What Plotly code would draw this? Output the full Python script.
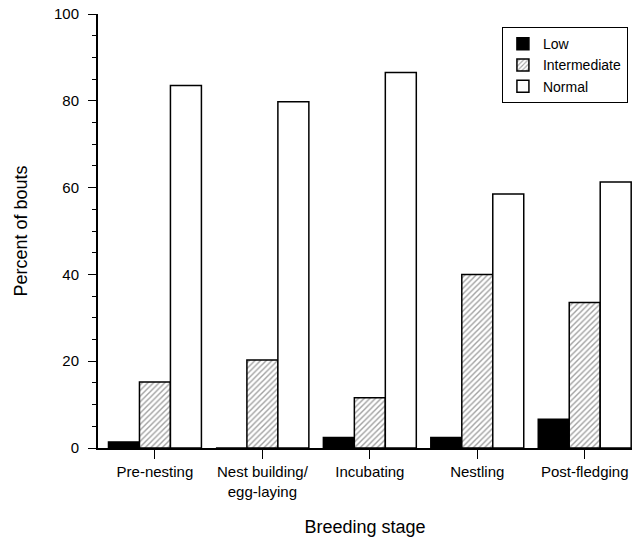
import plotly.graph_objects as go

stages = ["Pre-nesting", "Nest building/<br>egg-laying", "Incubating", "Nestling", "Post-fledging"]
low = [1.4, 0.0, 2.4, 2.4, 6.6]
intermediate = [15.2, 20.3, 11.6, 40.0, 33.5]
normal = [83.5, 79.8, 86.5, 58.5, 61.3]

font = "Liberation Sans, Arial, sans-serif"
line = dict(color="black", width=1.5)

fig = go.Figure()
fig.add_bar(x=stages, y=low, name="Low", marker=dict(color="black", line=line))
fig.add_bar(x=stages, y=intermediate, name="Intermediate",
            marker=dict(color="white", line=line,
                        pattern=dict(shape="/", fgcolor="#444444", bgcolor="white", size=4, solidity=0.35)))
fig.add_bar(x=stages, y=normal, name="Normal", marker=dict(color="white", line=line))

fig.update_layout(
    width=635, height=542,
    margin=dict(l=98, r=3, t=14, b=94),
    paper_bgcolor="white", plot_bgcolor="white",
    barmode="group", bargap=0.135, bargroupgap=0,
    font=dict(family=font, color="black", size=15),
    legend=dict(x=0.992, y=0.97, xanchor="right", yanchor="top",
                bordercolor="black", borderwidth=1.2, bgcolor="white",
                font=dict(size=14, family=font), tracegroupgap=0, itemwidth=30),
    showlegend=True,
)
fig.update_xaxes(
    range=[-0.53, 4.44], showline=True, linecolor="black", linewidth=2,
    ticks="outside", ticklen=9, tickcolor="black", tickwidth=1,
    ticklabelstandoff=0, automargin=False,
    tickfont=dict(size=15), showgrid=False, zeroline=False,
    title=dict(text="Breeding stage", font=dict(size=18), standoff=22),
)
fig.update_yaxes(
    range=[0, 100], dtick=20, showline=True, linecolor="black", linewidth=2,
    ticks="outside", ticklen=8, tickcolor="black", tickwidth=1,
    ticklabelstandoff=6, automargin=False,
    minor=dict(dtick=5, ticks="outside", ticklen=4, tickcolor="black", tickwidth=1, showgrid=False),
    tickfont=dict(size=15), showgrid=False, zeroline=False,
    title=dict(text="Percent of bouts", font=dict(size=18), standoff=22),
)
fig.write_html("out.html", config={"displayModeBar": False},
               post_script="document.body.style.margin='0';document.body.style.overflow='hidden';")
